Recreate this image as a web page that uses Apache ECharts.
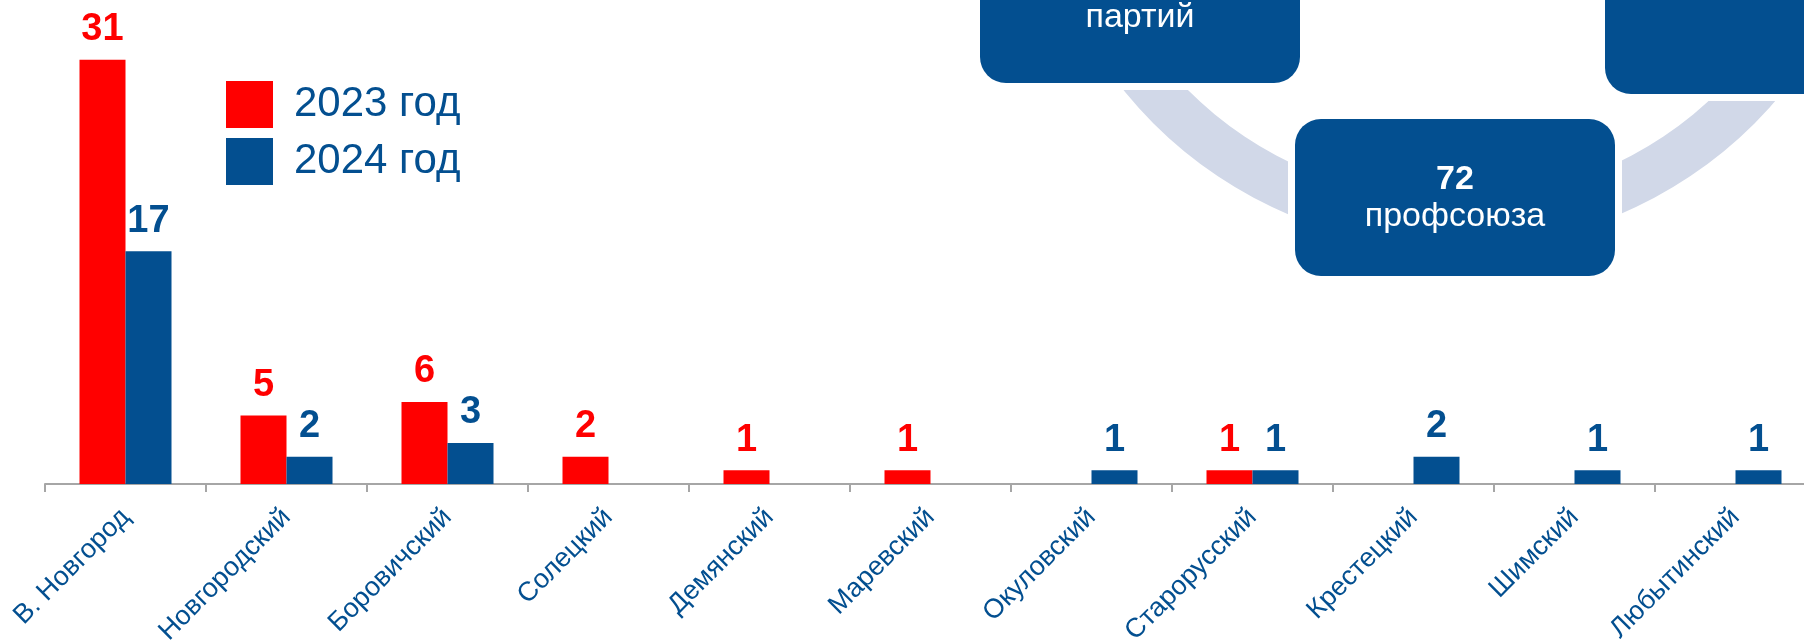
<!DOCTYPE html>
<html>
<head>
<meta charset="utf-8">
<title>2023 / 2024</title>
<script src="https://cdn.jsdelivr.net/npm/echarts@6/dist/echarts.min.js"></script>
<style>
  html, body { margin: 0; padding: 0; background: #fff; }
  #chart { width: 1804px; height: 643px; }
</style>
</head>
<body>
<div id="chart"></div>
<script>
// районы
const categories = [
  "В. Новгород", "Новгородский", "Боровичский", "Солецкий", "Демянский",
  "Маревский", "Окуловский", "Старорусский", "Крестецкий", "Шимский", "Любытинский"
];
const seriesNames = ["2023 год", "2024 год"];
const values2023 = [31, 5, 6, 2, 1, 1, null, 1, null, null, null];
const values2024 = [17, 2, 3, null, null, null, 1, 1, 2, 1, 1];

const RED = "#FF0000";
const BLUE = "#034F90";
const FONT = "Liberation Sans, Arial, sans-serif";

const chart = echarts.init(document.getElementById("chart"));

// rounded box with white outline, text inside
function box(x, y, w, h, lines) {
  const els = [
    {
      type: "rect",
      shape: { x: x - 7, y: y - 7, width: w + 14, height: h + 14, r: 32 },
      style: { fill: "#fff" },
    },
    {
      type: "rect",
      shape: { x: x, y: y, width: w, height: h, r: 26 },
      style: { fill: BLUE },
    },
  ];
  lines.forEach((l) => {
    els.push({
      type: "text",
      x: x + w / 2,
      y: l.y,
      style: {
        text: l.text,
        fill: "#fff",
        font: (l.bold ? "bold " : "") + "34px " + FONT,
        textAlign: "center",
        textVerticalAlign: "middle",
      },
    });
  });
  return els;
}

const barLabel = (color) => ({
  show: true,
  position: "top",
  distance: 11,
  color: color,
  fontSize: 38,
  fontWeight: "bold",
});

chart.setOption({
  animation: false,
  color: [RED, BLUE],
  textStyle: { fontFamily: FONT },
  legend: {
    orient: "vertical",
    left: 226,
    top: 81,
    padding: 0,
    itemWidth: 47,
    itemHeight: 47,
    itemGap: 10,
    icon: "rect",
    data: seriesNames,
    textStyle: {
      color: BLUE,
      fontSize: 42,
      padding: [0, 0, 0, 16],
    },
  },
  grid: {
    left: 45,
    top: 5,
    width: 1771,
    bottom: 159,
    containLabel: false,
    outerBoundsMode: "none",
  },
  xAxis: {
    type: "category",
    data: categories,
    axisLine: {
      lineStyle: { color: "#A6A6A6", width: 2 },
    },
    axisTick: {
      show: true,
      length: 8,
      lineStyle: { color: "#A6A6A6", width: 2 },
    },
    axisLabel: {
      rotate: 45,
      margin: 29,
      interval: 0,
      color: BLUE,
      fontSize: 27,
    },
  },
  yAxis: {
    type: "value",
    min: 0,
    max: 35,
    show: false,
  },
  graphic: [
    // светлая дуга позади блоков
    {
      type: "ring",
      shape: { cx: 1454, cy: -177, r: 425, r0: 377 },
      style: { fill: "#D1D8E8" },
    },
    ...box(980, -74, 320, 157, [{ text: "партий", y: 18 }]),
    ...box(1605, -63, 320, 157, []),
    ...box(1295, 119, 320, 157, [
      { text: "72", y: 180, bold: true },
      { text: "профсоюза", y: 217 },
    ]),
  ],
  series: [
    {
      name: seriesNames[0],
      type: "bar",
      data: values2023,
      barWidth: 46,
      barGap: "0%",
      label: barLabel(RED),
    },
    {
      name: seriesNames[1],
      type: "bar",
      data: values2024,
      barWidth: 46,
      barGap: "0%",
      label: barLabel(BLUE),
    },
  ],
});
</script>
</body>
</html>
